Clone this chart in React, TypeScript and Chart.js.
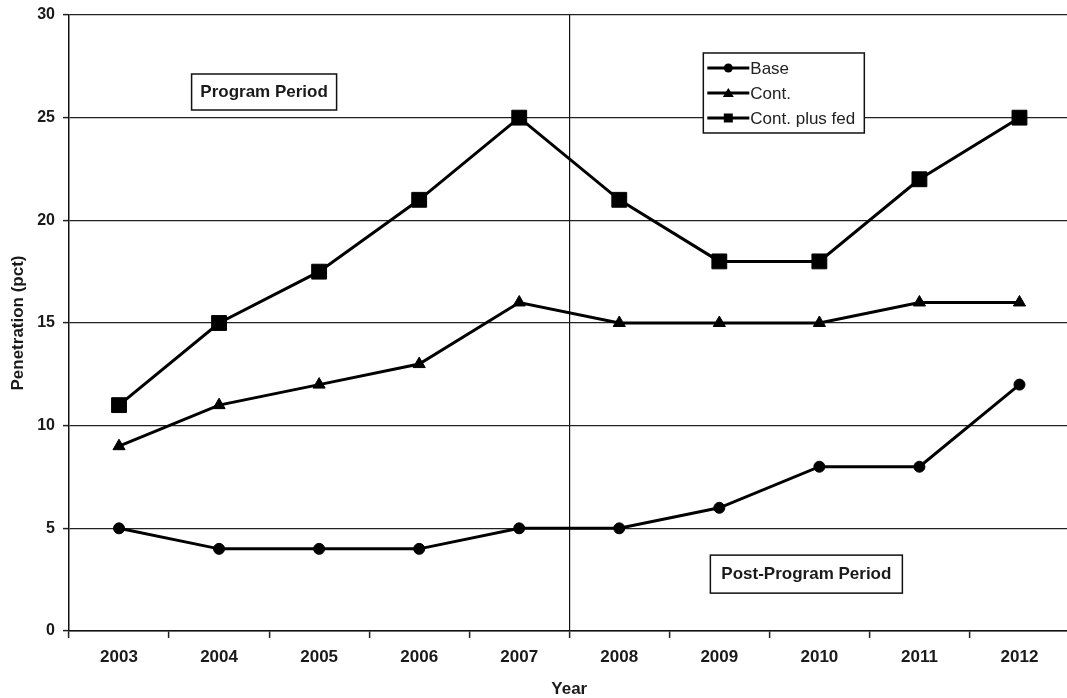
import React, { useEffect, useRef } from "react";
import { Chart, registerables } from "chart.js";

Chart.register(...registerables);

const years = ["2003", "2004", "2005", "2006", "2007", "2008", "2009", "2010", "2011", "2012"];
const base = [5, 4, 4, 4, 5, 5, 6, 8, 8, 12];
const cont = [9, 11, 12, 13, 16, 15, 15, 15, 16, 16];
const contPlusFed = [11, 15, 17.5, 21, 25, 21, 18, 18, 22, 25];
const seriesNames = ["Base", "Cont.", "Cont. plus fed"];
const yTicks = [0, 5, 10, 15, 20, 25, 30];
const periodLabels = ["Program Period", "Post-Program Period"];

const FONT = "'Liberation Sans', Arial, sans-serif";

const overlayPlugin = {
  id: "overlay",
  afterDraw(chart: any) {
    const ctx = chart.ctx as CanvasRenderingContext2D;
    const xs = chart.scales.x;
    const ys = chart.scales.y;
    ctx.save();

    const drawBox = (text: string, cx: number, cy: number, w: number, h: number) => {
      ctx.fillStyle = "#fff";
      ctx.fillRect(cx - w / 2, cy - h / 2, w, h);
      ctx.strokeStyle = "#111";
      ctx.lineWidth = 1.5;
      ctx.strokeRect(cx - w / 2, cy - h / 2, w, h);
      ctx.fillStyle = "#1a1a1a";
      ctx.font = `bold 17px ${FONT}`;
      ctx.textAlign = "center";
      ctx.textBaseline = "middle";
      ctx.fillText(text, cx, cy);
    };
    drawBox(periodLabels[0], xs.getPixelForValue(1.45), ys.getPixelForValue(26.25), 145, 36);
    drawBox(periodLabels[1], xs.getPixelForValue(6.87), ys.getPixelForValue(2.77), 192, 38);

    // legend
    const lx = xs.getPixelForValue(5.84);
    const ly = ys.getPixelForValue(28.15);
    const lw = 161;
    const lh = 80;
    ctx.fillStyle = "#fff";
    ctx.fillRect(lx, ly, lw, lh);
    ctx.strokeStyle = "#111";
    ctx.lineWidth = 1.5;
    ctx.strokeRect(lx, ly, lw, lh);
    const styles = ["circle", "triangle", "rect"];
    seriesNames.forEach((name, i) => {
      const y = ly + 15 + i * 25;
      ctx.strokeStyle = "#000";
      ctx.lineWidth = 3;
      ctx.beginPath();
      ctx.moveTo(lx + 4, y);
      ctx.lineTo(lx + 46, y);
      ctx.stroke();
      ctx.fillStyle = "#000";
      const mx = lx + 25;
      ctx.beginPath();
      if (styles[i] === "circle") {
        ctx.arc(mx, y, 4.5, 0, Math.PI * 2);
      } else if (styles[i] === "triangle") {
        ctx.moveTo(mx, y - 5);
        ctx.lineTo(mx + 5.5, y + 4);
        ctx.lineTo(mx - 5.5, y + 4);
        ctx.closePath();
      } else {
        ctx.rect(mx - 4.5, y - 4.5, 9, 9);
      }
      ctx.fill();
      ctx.fillStyle = "#222";
      ctx.font = `17px ${FONT}`;
      ctx.textAlign = "left";
      ctx.textBaseline = "middle";
      ctx.fillText(name, lx + 47, y + 1);
    });
    ctx.restore();
  },
};

export default function App() {
  const ref = useRef<HTMLCanvasElement>(null);
  useEffect(() => {
    if (!ref.current) return;
    const mk = (label: string, data: number[], style: string, r: number) => ({
      label,
      data,
      borderColor: "#000",
      backgroundColor: "#000",
      borderWidth: 3,
      pointStyle: style,
      pointRadius: r,
      pointBorderWidth: 1,
      pointBackgroundColor: "#000",
      pointBorderColor: "#000",
      tension: 0,
    });
    const chart = new Chart(ref.current, {
      type: "line",
      data: {
        labels: years,
        datasets: [
          mk(seriesNames[0], base, "circle", 5.5),
          mk(seriesNames[1], cont, "triangle", 7),
          mk(seriesNames[2], contPlusFed, "rect", 10.5),
        ],
      },
      options: {
        responsive: false,
        animation: false,
        devicePixelRatio: 1,
        layout: { padding: { top: 15, left: 0, right: 3, bottom: 0 } },
        plugins: { legend: { display: false }, tooltip: { enabled: false } },
        scales: {
          x: {
            type: "category",
            offset: true,
            afterFit: (s: any) => {
              s.height = 67;
              s.paddingLeft = 0;
              s.paddingRight = 0;
            },
            grid: {
              offset: true,
              drawTicks: true,
              tickLength: 7,
              tickColor: "#222",
              tickWidth: 1.5,
              color: (c: any) => (c.index === 5 ? "#111" : "rgba(0,0,0,0)"),
              lineWidth: 1.2,
            },
            border: { display: true, color: "#111", width: 1.5 },
            ticks: {
              color: "#1a1a1a",
              font: { family: FONT, size: 17, weight: "bold" },
              padding: 9,
              maxRotation: 0,
            },
            title: {
              display: true,
              text: "Year",
              color: "#1a1a1a",
              font: { family: FONT, size: 17, weight: "bold" },
              padding: { top: 0, bottom: -2 },
            },
          },
          y: {
            min: 0,
            max: 30,
            afterFit: (s: any) => {
              s.width = 69;
              s.paddingTop = 0;
              s.paddingBottom = 0;
            },
            afterBuildTicks: (s: any) => {
              s.ticks = yTicks.map((v) => ({ value: v }));
            },
            grid: {
              drawTicks: true,
              tickLength: 6,
              tickColor: "#222",
              tickWidth: 1.5,
              color: "#222",
              lineWidth: 1.2,
            },
            border: { display: true, color: "#111", width: 1.5 },
            ticks: {
              color: "#1a1a1a",
              font: { family: FONT, size: 16, weight: "bold" },
              padding: 8,
            },
            title: {
              display: true,
              text: "Penetration (pct)",
              color: "#1a1a1a",
              font: { family: FONT, size: 17, weight: "bold" },
              padding: { top: 8, bottom: 0 },
            },
          },
        },
      } as any,
      plugins: [overlayPlugin],
    });
    return () => chart.destroy();
  }, []);
  return (
    <div
      style={{
        position: "fixed",
        left: 0,
        top: 0,
        width: 1067,
        height: 698,
        overflow: "hidden",
        background: "#fff",
      }}
    >
      <canvas ref={ref} width={1081} height={698} style={{ width: 1081, height: 698, display: "block" }} />
    </div>
  );
}
